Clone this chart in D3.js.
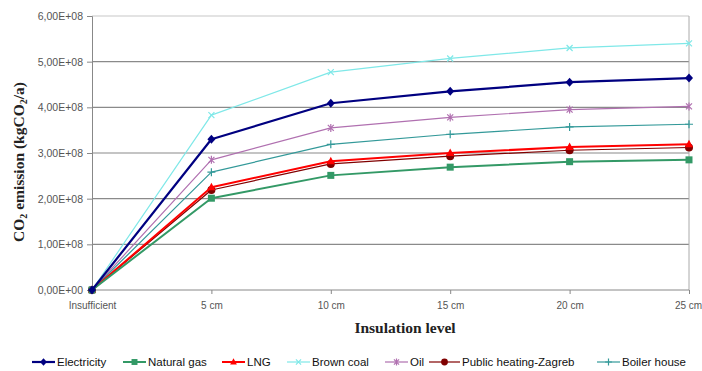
<!DOCTYPE html>
<html><head><meta charset="utf-8">
<script src="https://cdn.jsdelivr.net/npm/d3@7"></script>
<style>body{margin:0;background:#fff}svg{display:block}</style>
</head><body><svg id="c" width="702" height="371"></svg>
<script>
const categories = ["Insufficient","5 cm","10 cm","15 cm","20 cm","25 cm"];
const electricity = [0, 3.30e8, 4.09e8, 4.35e8, 4.55e8, 4.64e8];
const naturalGas = [0, 2.01e8, 2.51e8, 2.69e8, 2.81e8, 2.85e8];
const lng = [0, 2.25e8, 2.82e8, 3.00e8, 3.13e8, 3.19e8];
const brownCoal = [0, 3.83e8, 4.77e8, 5.07e8, 5.30e8, 5.40e8];
const oil = [0, 2.85e8, 3.55e8, 3.78e8, 3.95e8, 4.02e8];
const publicHeating = [0, 2.19e8, 2.76e8, 2.93e8, 3.06e8, 3.12e8];
const boilerHouse = [0, 2.58e8, 3.19e8, 3.41e8, 3.57e8, 3.63e8];
const yTicks = [0,1e8,2e8,3e8,4e8,5e8,6e8];
const yTickLabels = ["0,00E+00","1,00E+08","2,00E+08","3,00E+08","4,00E+08","5,00E+08","6,00E+08"];

const series = [
  {name:"Electricity", values:electricity, color:"#000080", width:2.2, marker:"diamond"},
  {name:"Natural gas", values:naturalGas, color:"#339966", width:2, marker:"square"},
  {name:"LNG", values:lng, color:"#ff0000", width:2, marker:"triangle"},
  {name:"Brown coal", values:brownCoal, color:"#7fe8e8", width:1.2, marker:"x"},
  {name:"Oil", values:oil, color:"#b070b0", width:1.2, marker:"star"},
  {name:"Public heating-Zagreb", values:publicHeating, color:"#800000", width:1.2, marker:"circle"},
  {name:"Boiler house", values:boilerHouse, color:"#339999", width:1.2, marker:"plus"}
];
const drawOrder = [3,4,6,5,2,1,0];

const svg = d3.select("#c");
const L=92, R=689, T=16, B=290;
const x = d3.scalePoint().domain(categories).range([L,R]);
const y = d3.scaleLinear().domain([0,6e8]).range([B,T]);

svg.append("g").selectAll("line").data(yTicks.slice(1)).join("line")
  .attr("x1",L).attr("x2",R).attr("y1",d=>y(d)).attr("y2",d=>y(d))
  .attr("stroke",d=>d===6e8?"#c8c8c8":"#8a8a8a").attr("stroke-width",1.2);
svg.append("line").attr("x1",R).attr("x2",R).attr("y1",T).attr("y2",B).attr("stroke","#aaa").attr("stroke-width",1);

const yAxis = d3.axisLeft(y).tickValues(yTicks).tickSize(5).tickFormat((d,i)=>yTickLabels[i]);
const gy = svg.append("g").attr("transform",`translate(${L},0)`).call(yAxis);
gy.select(".domain").attr("stroke","#888");
gy.selectAll(".tick line").attr("stroke","#888");
gy.selectAll("text").attr("font-family","Arial, 'Liberation Sans', sans-serif").attr("font-size",10.5).attr("fill","#555").attr("x",-9);

const xAxis = d3.axisBottom(x).tickSize(4).tickPadding(8);
const gx = svg.append("g").attr("transform",`translate(0,${B})`).call(xAxis);
gx.select(".domain").attr("stroke","#888").attr("d",`M${L},0H${R}`);
gx.selectAll(".tick line").attr("stroke","#888");
gx.selectAll("text").attr("font-family","Arial, 'Liberation Sans', sans-serif").attr("font-size",10).attr("fill","#555");
gx.selectAll(".tick").filter(d=>d==="25 cm").select("text").attr("x",-1);

svg.append("text").attr("x",405).attr("y",333).attr("text-anchor","middle")
  .attr("font-family","'Liberation Serif','Times New Roman',serif").attr("font-weight","bold").attr("font-size",15.5).attr("fill","#222")
  .text("Insulation level");
const yt = svg.append("text").attr("transform","translate(24,162) rotate(-90)").attr("text-anchor","middle")
  .attr("font-family","'Liberation Serif','Times New Roman',serif").attr("font-weight","bold").attr("font-size",15.5).attr("fill","#222");
yt.append("tspan").text("CO");
yt.append("tspan").attr("font-size",10).attr("dy",3).text("2");
yt.append("tspan").attr("dy",-3).text(" emission (kgCO");
yt.append("tspan").attr("font-size",10).attr("dy",3).text("2");
yt.append("tspan").attr("dy",-3).text("/a)");

function drawMarker(g, type, cx, cy, color, s){
  s = s||1;
  if(type==="diamond"){
    g.append("path").attr("d",`M${cx},${cy-4.5*s}L${cx+4*s},${cy}L${cx},${cy+4.5*s}L${cx-4*s},${cy}Z`).attr("fill",color);
  } else if(type==="square"){
    g.append("rect").attr("x",cx-3.5*s).attr("y",cy-3.5*s).attr("width",7*s).attr("height",7*s).attr("fill",color);
  } else if(type==="triangle"){
    g.append("path").attr("d",`M${cx},${cy-4.5*s}L${cx+4*s},${cy+3*s}L${cx-4*s},${cy+3*s}Z`).attr("fill",color);
  } else if(type==="circle"){
    g.append("circle").attr("cx",cx).attr("cy",cy).attr("r",4*s).attr("fill",color);
  } else if(type==="x"){
    g.append("path").attr("d",`M${cx-3*s},${cy-3*s}L${cx+3*s},${cy+3*s}M${cx+3*s},${cy-3*s}L${cx-3*s},${cy+3*s}`).attr("stroke",color).attr("stroke-width",1.2);
  } else if(type==="star"){
    g.append("path").attr("d",`M${cx-3*s},${cy-3*s}L${cx+3*s},${cy+3*s}M${cx+3*s},${cy-3*s}L${cx-3*s},${cy+3*s}M${cx},${cy-4*s}L${cx},${cy+4*s}`).attr("stroke",color).attr("stroke-width",1.2);
  } else if(type==="plus"){
    g.append("path").attr("d",`M${cx-4*s},${cy}L${cx+4*s},${cy}M${cx},${cy-4*s}L${cx},${cy+4*s}`).attr("stroke",color).attr("stroke-width",1.2);
  }
}

const line = d3.line().x((d,i)=>x(categories[i])).y(d=>y(d));
const gl = svg.append("g");
drawOrder.forEach(k=>{
  const s = series[k];
  const g = gl.append("g");
  g.append("path").attr("d",line(s.values)).attr("fill","none").attr("stroke",s.color).attr("stroke-width",s.width).attr("stroke-linejoin","round");
  s.values.forEach((v,i)=>drawMarker(g,s.marker,x(categories[i]),y(v),s.color,1));
});

const legendX = [32,123,222,287,385,429,597];
const lg = svg.append("g");
series.forEach((s,i)=>{
  const lx = legendX[i], ly = 362;
  const len = (i===5)?31:23;
  lg.append("line").attr("x1",lx).attr("x2",lx+len).attr("y1",ly).attr("y2",ly).attr("stroke",s.color).attr("stroke-width",s.width);
  drawMarker(lg,s.marker,lx+len/2,ly,s.color,0.85);
  lg.append("text").attr("x",lx+len+2).attr("y",ly+4).attr("font-family","Arial, 'Liberation Sans', sans-serif").attr("font-size",11.5).attr("fill","#111").text(s.name);
});
</script></body></html>
